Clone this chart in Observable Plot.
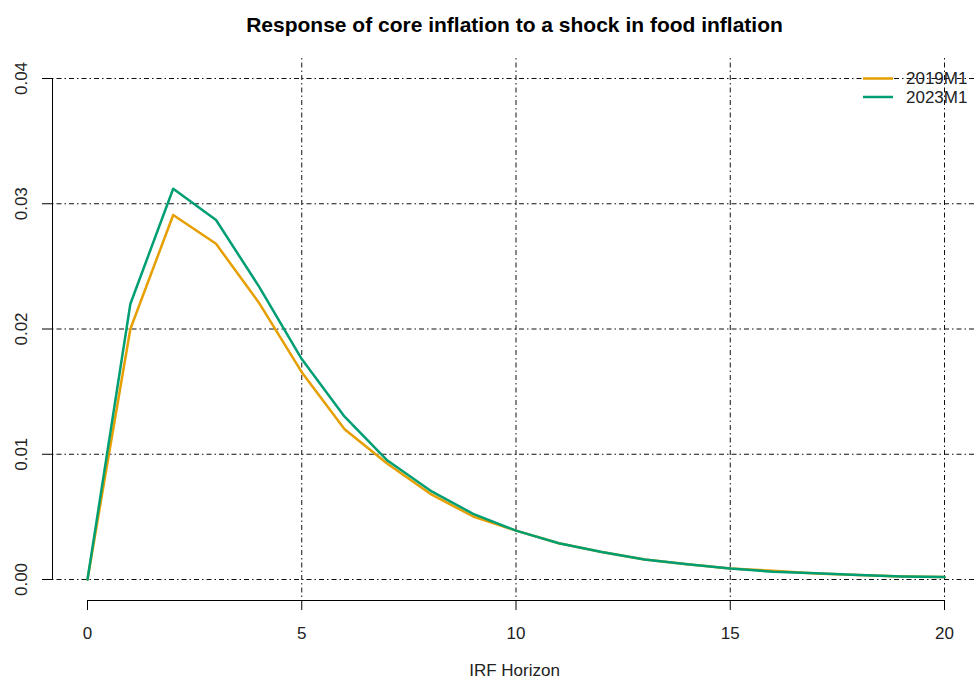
<!DOCTYPE html>
<html><head><meta charset="utf-8">
<script src="https://cdn.jsdelivr.net/npm/d3@7"></script>
<script src="https://cdn.jsdelivr.net/npm/@observablehq/plot@0.6"></script>
<style>body{margin:0;background:#fff;} #chart{width:976px;height:690px;}</style>
</head><body><div id="chart"></div>
<script>
const title = "Response of core inflation to a shock in food inflation";
const xLabel = "IRF Horizon";
const horizon = [0,1,2,3,4,5,6,7,8,9,10,11,12,13,14,15,16,17,18,19,20];
const seriesNames = ["2019M1","2023M1"];
const irf2019 = [0, 0.0200, 0.0291, 0.0268, 0.0221, 0.01655, 0.0120, 0.00924, 0.00684, 0.00503, 0.0039, 0.0029, 0.0022, 0.0016, 0.00122, 0.00088, 0.0007, 0.00048, 0.00035, 0.00024, 0.00019];
const irf2023 = [0, 0.0220, 0.0312, 0.0287, 0.0234, 0.0176, 0.0130, 0.0095, 0.0071, 0.00524, 0.0039, 0.0029, 0.0022, 0.0016, 0.00122, 0.00088, 0.00062, 0.0005, 0.00035, 0.00024, 0.00019];
const seriesColors = ["#E69F00","#009E73"];
const xTicks = [0,5,10,15,20];
const xGrid = [5,10,15,20];
const yTicks = [0,0.01,0.02,0.03,0.04];

const rows = [];
[irf2019, irf2023].forEach((vals, s) => horizon.forEach((h, i) => rows.push({series: seriesNames[s], h, v: vals[i]})));

const font = "'Liberation Sans', Arial, sans-serif";
const grid = {stroke: "#111", strokeWidth: 1, strokeDasharray: "1.5,3,5,3"};
const fmt = d3.format(".2f");

const plot = Plot.plot({
  width: 976, height: 690,
  marginLeft: 52, marginRight: 0, marginTop: 58, marginBottom: 90,
  style: {fontFamily: font, background: "#fff", color: "#000"},
  x: {domain: [0, 20], range: [87, 944], axis: null},
  y: {domain: [0, 0.04], range: [579, 78], axis: null},
  color: {domain: seriesNames, range: seriesColors},
  marks: [
    Plot.ruleY(yTicks, grid),
    Plot.ruleX(xGrid, grid),
    Plot.line(rows, {x: "h", y: "v", z: "series", stroke: "series", strokeWidth: 2.5}),
    Plot.ruleY([0], {x1: xTicks[0], x2: xTicks[xTicks.length - 1], dy: 21, stroke: "#000"}),
    Plot.ruleX([0], {y1: yTicks[0], y2: yTicks[yTicks.length - 1], dx: -35, stroke: "#000"}),
    Plot.axisX(xTicks, {anchor: "bottom", tickSize: 10, tickPadding: 16, fontSize: 17, label: null, stroke: "#000", fill: "#222"}),
    Plot.axisY(yTicks, {anchor: "left", tickSize: 10, tickFormat: () => "", label: null, stroke: "#000"}),
    Plot.text(yTicks, {y: d => d, text: d => fmt(d), frameAnchor: "left", dx: -31, rotate: -90, textAnchor: "middle", lineAnchor: "middle", fontSize: 17, fill: "#222"}),
    Plot.text([title], {frameAnchor: "top", dy: -41, text: d => d, fontWeight: "bold", fontSize: 21, fill: "#000"}),
    Plot.text([xLabel], {frameAnchor: "bottom", dy: 75, text: d => d, fontSize: 17, fill: "#222"})
  ]
});
document.getElementById("chart").appendChild(plot);

// legend (no box), top-right
const svg = d3.select(plot);
const lg = svg.append("g").attr("font-family", font).attr("font-size", 17).attr("text-anchor", "start");
seriesNames.forEach((name, i) => {
  const y = 78.5 + i * 18.5;
  lg.append("line").attr("x1", 863).attr("x2", 893).attr("y1", y).attr("y2", y)
    .attr("stroke", seriesColors[i]).attr("stroke-width", 2.5);
  lg.append("text").attr("x", 906).attr("y", y).attr("dy", "0.35em").attr("fill", "#222").text(name);
});
</script>
</body></html>
